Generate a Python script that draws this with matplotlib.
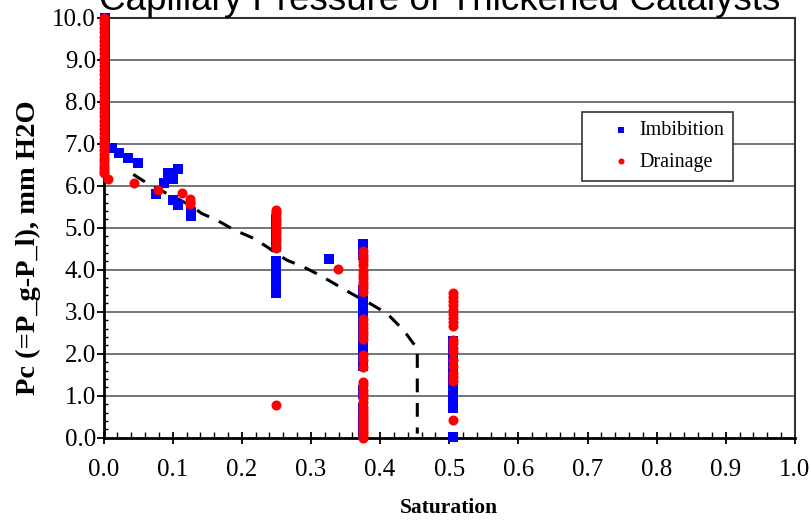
import numpy as np
import matplotlib
matplotlib.use("Agg")
import matplotlib.pyplot as plt
from matplotlib.ticker import MultipleLocator, FormatStrFormatter

# ---------------- data ----------------
title = "Capillary Pressure of Thickened Catalysts"
xlabel = "Saturation"
ylabel = "Pc (=P_g-P_l), mm H2O"

# Imbibition: columns at fixed saturation plus scattered points
imb_col_sat = [0.002, 0.25, 0.375, 0.505]
imb_col_pc = [
    [7.0, 7.1, 7.2, 7.3, 7.4, 7.5, 7.6, 7.7, 7.8, 7.9, 8.0, 8.1, 8.2, 8.3, 8.4, 8.5,
     8.6, 8.7, 8.8, 8.9, 9.0, 9.1, 9.2, 9.3, 9.4, 9.5, 9.6, 9.7, 9.8, 9.9, 10.0],
    [3.45, 3.55, 3.65, 3.75, 3.85, 3.95, 4.05, 4.15, 4.22,
     4.55, 4.65, 4.75, 4.85, 4.95, 5.05, 5.15, 5.22],
    [4.35, 4.45, 4.55, 4.62,
     2.36, 2.45, 2.55, 2.65, 2.75, 2.85, 2.95, 3.05, 3.15, 3.25, 3.35, 3.45, 3.52,
     1.70, 1.80, 1.90, 2.00, 2.10, 2.22,
     1.05, 1.15,
     0.10, 0.20, 0.32, 0.45, 0.58, 0.72],
    [0.72, 0.80, 0.90, 1.00, 1.08, 1.20, 1.30, 1.40, 1.50, 1.60, 1.70, 1.80, 1.90,
     2.00, 2.10, 2.20, 2.30, 0.02],
]
imb_pt_sat = [0.012, 0.023, 0.035, 0.050, 0.076, 0.0875, 0.093, 0.100, 0.107, 0.100,
              0.107, 0.126, 0.126, 0.326]
imb_pt_pc = [6.91, 6.79, 6.65, 6.55, 5.80, 6.06, 6.30, 6.15, 6.41, 5.66,
             5.54, 5.38, 5.28, 4.26]

# Drainage
drn_col_sat = [0.0, 0.25, 0.375, 0.505]
drn_col_pc = [
    [6.30, 6.35, 6.42, 6.50, 6.58, 6.66, 6.75, 6.85, 6.95, 7.05, 7.15, 7.25, 7.35, 7.45,
     7.55, 7.65, 7.75, 7.85, 7.95, 8.05, 8.15, 8.25, 8.35, 8.45, 8.55, 8.65, 8.75, 8.85,
     8.95, 9.05, 9.15, 9.25, 9.35, 9.45, 9.55, 9.65, 9.75, 9.85, 9.93, 10.0],
    [4.52, 4.60, 4.68, 4.76, 4.84, 4.92, 5.00, 5.08, 5.16, 5.24, 5.32, 5.38, 5.42, 0.78],
    [4.12, 4.20, 4.28, 4.36, 4.44,
     3.48, 3.56, 3.64, 3.72, 3.80, 3.88, 3.96,
     2.36, 2.44, 2.52, 2.62, 2.72, 2.82,
     1.68, 1.85, 1.97,
     0.85, 0.95, 1.05, 1.15, 1.25, 1.33,
     0.00, 0.05, 0.11, 0.17, 0.24, 0.31, 0.38, 0.45, 0.52, 0.60, 0.67, 0.74],
    [2.65, 2.75, 2.85, 2.95, 3.05, 3.15, 3.25, 3.35, 3.45,
     1.35, 1.45, 1.55, 1.70, 1.85, 2.05, 2.15, 2.25, 2.32, 0.42],
]
drn_pt_sat = [0.007, 0.044, 0.079, 0.113, 0.125, 0.125, 0.125, 0.3396]
drn_pt_pc = [6.16, 6.06, 5.91, 5.82, 5.68, 5.62, 5.56, 4.02]

fit_x = [0.043, 0.067, 0.096, 0.125, 0.142, 0.164, 0.190, 0.217, 0.236, 0.265, 0.289,
         0.313, 0.337, 0.360, 0.385, 0.410, 0.434, 0.448, 0.4538, 0.4538]
fit_y = [6.27, 6.02, 5.78, 5.54, 5.34, 5.18, 4.94, 4.75, 4.55, 4.23, 4.07,
         3.87, 3.64, 3.42, 3.20, 2.96, 2.56, 2.25, 2.15, 0.10]

xticks = [0.0, 0.1, 0.2, 0.3, 0.4, 0.5, 0.6, 0.7, 0.8, 0.9, 1.0]
yticks = [0.0, 1.0, 2.0, 3.0, 4.0, 5.0, 6.0, 7.0, 8.0, 9.0, 10.0]


def assemble(col_sat, col_pc, pt_sat, pt_pc):
    xs, ys = [], []
    for s, pcs in zip(col_sat, col_pc):
        xs += [s] * len(pcs)
        ys += list(pcs)
    xs += list(pt_sat)
    ys += list(pt_pc)
    return xs, ys


imb_x, imb_y = assemble(imb_col_sat, imb_col_pc, imb_pt_sat, imb_pt_pc)
drn_x, drn_y = assemble(drn_col_sat, drn_col_pc, drn_pt_sat, drn_pt_pc)

# ---------------- figure ----------------
serif = ["Liberation Serif", "DejaVu Serif"]
fig = plt.figure(figsize=(8.12, 5.2), dpi=100)
ax = fig.add_axes([0.1275, 0.158, 0.8515, 0.808])

ax.set_xlim(0, 1)
ax.set_ylim(0, 10)

for yv in yticks[1:-1]:
    ax.axhline(yv, color="#6a6a6a", lw=1.3, zorder=0)

ax.plot(fit_x, fit_y, color="black", lw=2.2, dashes=(4.5, 3.5), zorder=2)

ax.scatter(imb_x, imb_y, marker="s", s=50, color="#0000ff", linewidths=0,
           zorder=3, clip_on=False, label="Imbibition")
ax.scatter(drn_x, drn_y, marker="o", s=52, color="#ff0000", linewidths=0,
           zorder=4, clip_on=False, label="Drainage")

ax.set_xticks(xticks)
ax.set_yticks(yticks)
ax.xaxis.set_major_formatter(FormatStrFormatter("%.1f"))
ax.yaxis.set_major_formatter(FormatStrFormatter("%.1f"))
ax.xaxis.set_minor_locator(MultipleLocator(0.02))
ax.yaxis.set_minor_locator(MultipleLocator(0.2))

ax.tick_params(axis="x", which="major", direction="inout", length=9, width=1.3,
               pad=11, labelsize=18, colors="black")
ax.tick_params(axis="x", which="minor", direction="in", length=4, width=1.0)
ax.tick_params(axis="y", which="major", direction="out", length=5, width=1.3,
               pad=0.5, labelsize=18)
ax.tick_params(axis="y", which="minor", direction="in", length=3, width=1.0)
for lab in ax.get_xticklabels() + ax.get_yticklabels():
    lab.set_fontfamily(serif)

for side in ["left", "bottom"]:
    ax.spines[side].set_linewidth(2.0)
    ax.spines[side].set_color("black")
for side in ["top", "right"]:
    ax.spines[side].set_linewidth(1.5)
    ax.spines[side].set_color("#333333")

ax.set_xlabel(xlabel, family=serif, fontweight="bold", fontsize=15.5)
ax.xaxis.set_label_coords(0.5, -0.168)
ax.xaxis.label.set_va("center")
ax.set_ylabel(ylabel, family=serif, fontweight="bold", fontsize=20.5)
ax.yaxis.set_label_coords(-0.108, 0.452)
ax.yaxis.label.set_va("center")

fig.text(0.541, 0.981, title, family=["Liberation Sans", "DejaVu Sans"],
         fontsize=26.5, ha="center", va="baseline")

leg = ax.legend(loc="upper left", bbox_to_anchor=(0.692, 0.775), borderaxespad=0,
                prop={"family": serif, "size": 14.5}, fancybox=False, framealpha=1,
                edgecolor="#333333", handlelength=3.0, handletextpad=-0.6,
                borderpad=0.45, labelspacing=0.6, markerscale=0.6)
leg.get_frame().set_linewidth(1.2)

fig.savefig("out.png", dpi=100)
